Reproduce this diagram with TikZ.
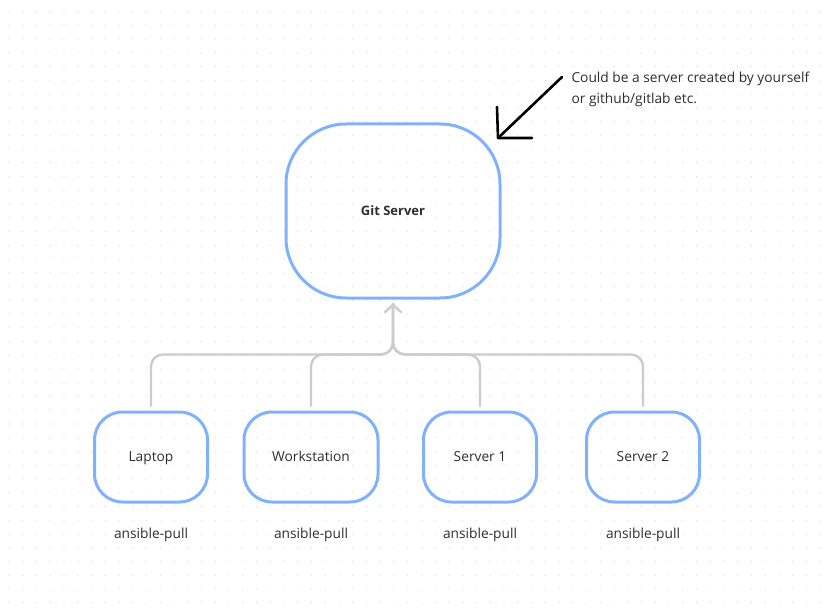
\documentclass[tikz,border=0pt]{standalone}
\usepackage{fontspec}
\setmainfont{Open Sans}
\usetikzlibrary{arrows.meta}
\definecolor{boxblue}{RGB}{128,177,250}
\definecolor{linkgray}{RGB}{204,204,204}
\definecolor{dotgray}{RGB}{215,215,215}
\definecolor{txtgray}{RGB}{45,45,45}
\tikzset{
  hostbox/.style={draw=boxblue, line width=3pt, rounded corners=28pt, minimum width=113pt, minimum height=90pt, text=txtgray, text height=2ex, text depth=0.25ex, font=\fontsize{13.75}{16}\selectfont},
  pullnote/.style={text=txtgray, font=\fontsize{13.75}{16}\selectfont},
  link/.style={draw=linkgray, line width=2.4pt, rounded corners=12pt},
}

\begin{document}
\begin{tikzpicture}[x=1pt, y=-1pt]
		%%%%% START %%%%%
		
		\useasboundingbox[fill=white] (0, 0) rectangle (823, 610);
		
		\foreach \i in {0,...,59}
			\foreach \j in {0,...,43}
				\fill[dotgray] ({9+13.75*\i}, {11.5+13.75*\j}) circle (0.7);
		
		\node[hostbox, rounded corners=60pt, minimum width=214pt, minimum height=174pt, font=\fontsize{13}{15}\selectfont\bfseries] (git) at (393, 211) {Git Server};
		
		\node[hostbox] (laptop) at (151, 457) {Laptop};
		\node[hostbox, minimum width=134pt] (workstation) at (311, 457) {Workstation};
		\node[hostbox] (server1) at (480, 457) {Server 1};
		\node[hostbox] (server2) at (643, 457) {Server 2};
		
		\node[pullnote] (pull1) at (151, 535) {ansible-pull};
		\node[pullnote] (pull2) at (311, 535) {ansible-pull};
		\node[pullnote] (pull3) at (480, 535) {ansible-pull};
		\node[pullnote] (pull4) at (643, 535) {ansible-pull};
		
		\draw[link] ([yshift=4pt]laptop.north) -- ++(0, -52) -| ([yshift=-3.5pt]git.south);
		\draw[link] ([yshift=4pt]workstation.north) -- ++(0, -52) -| ([yshift=-3.5pt]git.south);
		\draw[link] ([yshift=4pt]server1.north) -- ++(0, -52) -| ([yshift=-3.5pt]git.south);
		\draw[link, -{Straight Barb[length=8pt, width=17pt]}] ([yshift=4pt]server2.north) -- ++(0, -52) -| ([yshift=-3.5pt]git.south);
		
		\node[pullnote, anchor=north west, align=left, font=\fontsize{13.75}{21}\selectfont] (note) at (568, 68) {Could be a server created by yourself\\or github/gitlab etc.};
		
		\coordinate (notetail) at (562, 77);
		\coordinate (notetip) at (498, 138);
		\draw[line width=2.6pt, line cap=round] (notetail) -- (notetip);
		\draw[line width=2.6pt, line cap=round, line join=round] ([shift={(-1,-31)}]notetip) -- (notetip) -- ([xshift=34]notetip);
		
		%%%%% END %%%%%
	\end{tikzpicture}
\end{document}
